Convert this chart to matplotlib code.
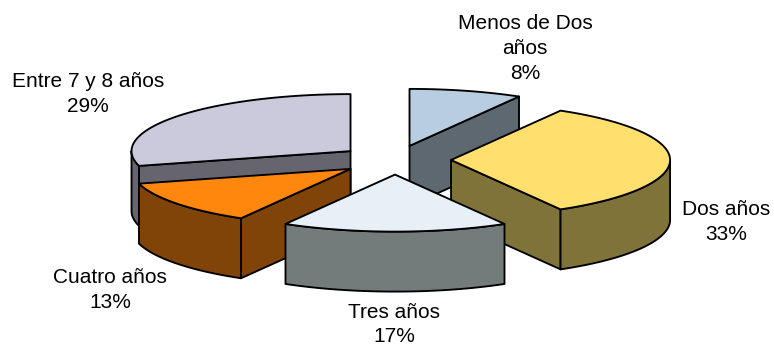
import numpy as np
import matplotlib
matplotlib.use('Agg')
import matplotlib.pyplot as plt
from matplotlib.patches import Polygon

plt.rcParams['font.family'] = ['Liberation Sans', 'DejaVu Sans']

categories = ['Menos de Dos\naños', 'Dos años', 'Tres años', 'Cuatro años', 'Entre 7 y 8 años']
values = [2, 8, 4, 3, 7]
top_colors = ['#B8CEE0', '#FFE06E', '#E8F0F7', '#FF870D', '#CBCADC']
side_colors = ['#5D6870', '#80733A', '#747B7B', '#804408', '#66656F']
label_pos = [(525, 48.5), (726, 222), (394, 324.5), (110, 290), (88, 94)]
draw_order = [4, 0, 3, 1, 2]

# pie geometry in pixels
cx, cy = 395, 160
rx, ry = 219, 57
explode = 0.256
depth = 60

fig = plt.figure(figsize=(7.74, 3.47), dpi=100)
ax = fig.add_axes([0, 0, 1, 1])
ax.set_xlim(0, 774)
ax.set_ylim(347, 0)
ax.axis('off')

total = sum(values)
edges = np.cumsum([0] + values) / total * 360


def rim(ox, oy, t):
    t = np.radians(t)
    return np.column_stack([ox + rx * np.sin(t), oy - ry * np.cos(t)])


def face(pts, color, z):
    ax.add_patch(Polygon(pts, closed=True, facecolor=color, edgecolor='black',
                         linewidth=1.35, joinstyle='round', zorder=z))


for z, i in enumerate(draw_order):
    t0, t1 = edges[i], edges[i + 1]
    mid = np.radians((t0 + t1) / 2)
    ox = cx + explode * rx * np.sin(mid)
    oy = cy - explode * ry * np.cos(mid)
    apex = np.array([[ox, oy]])
    down = np.array([0, depth])

    # cut faces that look towards the viewer
    for t, normal in [(t0, t0 - 90), (t1, t1 + 90)]:
        if np.cos(np.radians(normal)) < -1e-6:
            p = rim(ox, oy, np.array([t]))
            face(np.vstack([apex, p, p + down, apex + down]), side_colors[i], z * 3)

    # outer wall, front half only
    a, b = max(t0, 90), min(t1, 270)
    if a < b:
        arc = rim(ox, oy, np.linspace(a, b, 80))
        face(np.vstack([arc, (arc + down)[::-1]]), side_colors[i], z * 3 + 1)

    arc = rim(ox, oy, np.linspace(t0, t1, 160))
    face(np.vstack([apex, arc]), top_colors[i], z * 3 + 2)

for name, v, (x, y) in zip(categories, values, label_pos):
    pct = int(100 * v / total + 0.5)
    ax.text(x, y, f'{name}\n{pct}%', ha='center', va='center', fontsize=15,
            color='black', linespacing=1.38, zorder=50)

fig.savefig('out.png', dpi=100)
